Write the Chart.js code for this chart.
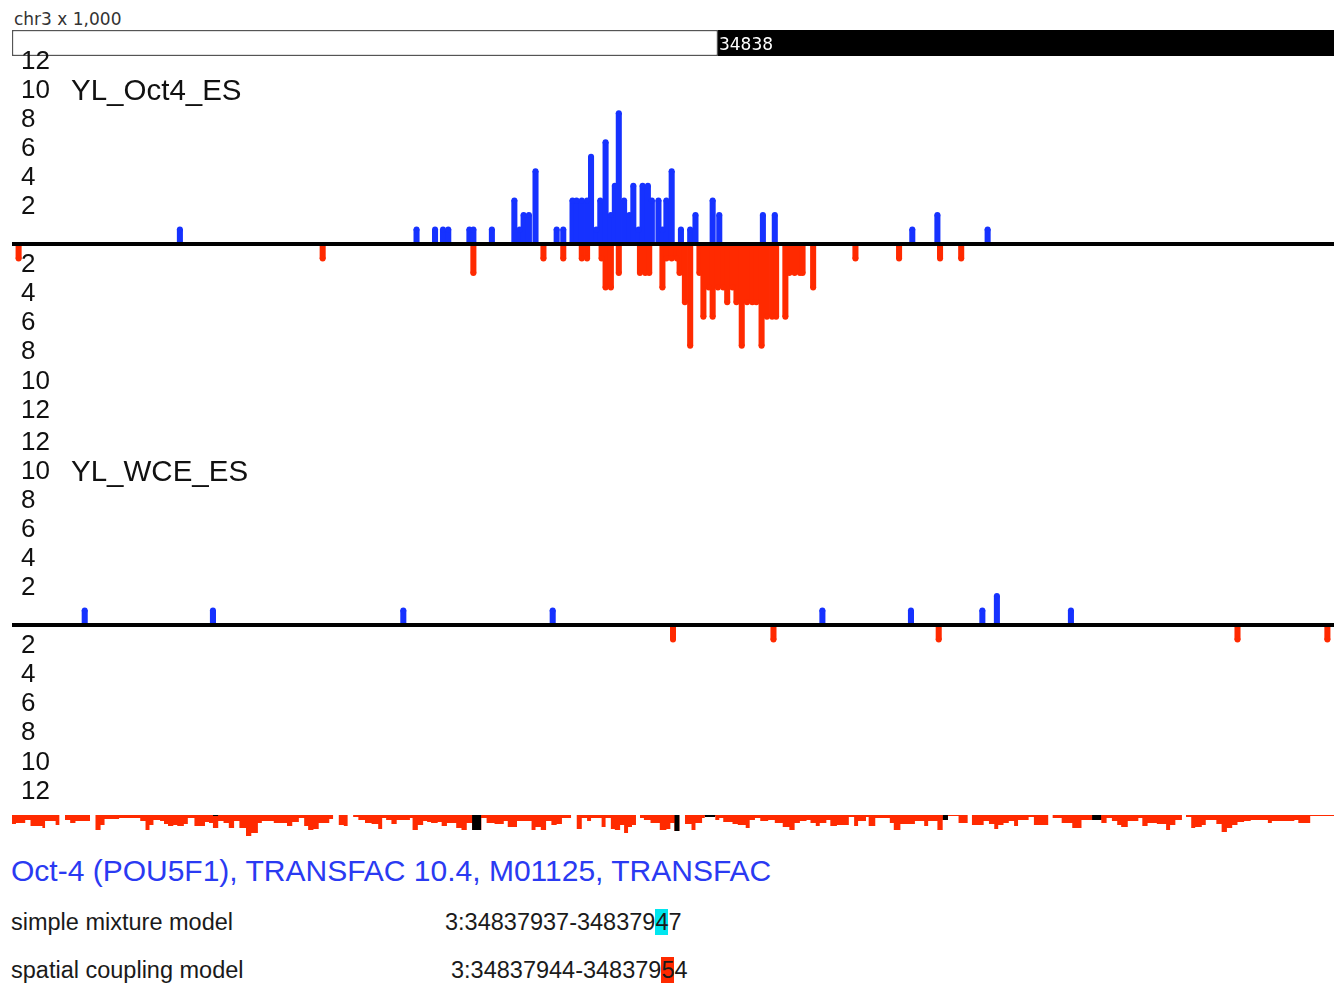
<!DOCTYPE html>
<html>
<head>
<meta charset="utf-8">
<title>Oct4 ChIP-seq read tracks, chr3</title>
<script src="https://cdn.jsdelivr.net/npm/chart.js@4.4.1/dist/chart.umd.min.js"></script>
<style>
  html, body { margin: 0; padding: 0; background: #fff; width: 1340px; height: 984px; overflow: hidden;
               font-family: "Liberation Sans", Arial, sans-serif; }
  canvas { position: absolute; }
  .abs { position: absolute; white-space: pre; }
  #scaleTitle { left: 14px; top: 8px; font: 17px "DejaVu Sans", sans-serif; line-height: 22px; color: #333; }
  .trackName { left: 71px; font-size: 29.5px; line-height: 34px; color: #111; }
  #motifName { left: 11px; top: 854px; font-size: 30px; line-height: 34px; color: #2a3af2; }
  .row { font-size: 23.5px; line-height: 28px; color: #1a1a1a; }
  .mark { display: inline-block; line-height: 26px; }
  .mark.cyan { background: #00e6ef; }
  .mark.red { background: #ff2a00; }
</style>
</head>
<body>
<div id="scaleTitle" class="abs">chr3 x 1,000</div>
<canvas id="ruler" width="1326" height="29" style="left:10px;top:28px"></canvas>
<canvas id="oct4" width="1322" height="400" style="left:12px;top:40px"></canvas>
<canvas id="wce" width="1322" height="400" style="left:12px;top:421px"></canvas>
<canvas id="motif" width="1322" height="30" style="left:12px;top:815px"></canvas>
<div class="abs trackName" style="top:73px">YL_Oct4_ES</div>
<div class="abs trackName" style="top:454px">YL_WCE_ES</div>
<div id="motifName" class="abs">Oct-4 (POU5F1), TRANSFAC 10.4, M01125, TRANSFAC</div>
<div class="abs row" style="left:11px;top:908px">simple mixture model</div>
<div class="abs row" style="left:445px;top:908px">3:34837937-348379<span class="mark cyan">4</span>7</div>
<div class="abs row" style="left:11px;top:956px">spatial coupling model</div>
<div class="abs row" style="left:451px;top:956px">3:34837944-348379<span class="mark red">5</span>4</div>
<script>
// Window shown: 1 kb of chr3, positions below are offsets (bp) from WINDOW_START.
const WINDOW_START = 34837466;
const WINDOW_LEN = 1000;
const RULER_KB = [34837, 34838];

// YL_Oct4_ES read counts, forward strand (up) and reverse strand (down)
const OCT4_FWD_POS = [127, 306, 320, 326, 330, 346, 349, 363, 380, 384, 387, 391, 396, 412, 417,
  424, 427, 431, 435, 438, 442, 445, 449, 453, 456, 459, 463, 467, 470, 474, 477, 481, 484, 489,
  492, 495, 499, 506, 513, 517, 530, 535, 568, 577, 681, 700, 738];
const OCT4_FWD_VAL = [1, 1, 1, 1, 1, 1, 1, 1, 3, 1, 2, 2, 5, 1, 1,
  3, 3, 3, 3, 6, 1, 3, 7, 2, 4, 9, 3, 2, 4, 1, 4, 4, 3, 3,
  1, 3, 5, 1, 1, 2, 3, 2, 2, 2, 1, 2, 1];
const OCT4_REV_POS = [5, 235, 349, 402, 417, 431, 435, 446, 449, 453, 459, 475, 479, 482, 492,
  495, 499, 503, 505, 509, 513, 520, 523, 527, 530, 534, 538, 541, 545, 548, 552, 556, 560, 563,
  567, 571, 575, 578, 585, 588, 592, 596, 598, 606, 638, 671, 702, 718];
const OCT4_REV_VAL = [1, 1, 2, 1, 1, 1, 1, 1, 3, 3, 2, 2, 2, 2, 3,
  1, 1, 1, 2, 4, 7, 2, 5, 3, 5, 3, 3, 4, 3, 4, 7, 4, 4, 4,
  7, 5, 5, 5, 5, 2, 2, 2, 2, 3, 1, 1, 1, 1];

// YL_WCE_ES (whole-cell extract control)
const WCE_FWD_POS = [55, 152, 296, 409, 613, 680, 734, 745, 801];
const WCE_FWD_VAL = [1, 1, 1, 1, 1, 1, 1, 2, 1];
const WCE_REV_POS = [500, 576, 701, 927, 995];
const WCE_REV_VAL = [1, 1, 1, 1, 1];

const Y_TICKS = [-12, -10, -8, -6, -4, -2, 0, 2, 4, 6, 8, 10, 12];

// Motif score profile: step starts (bp) and depth; null opens a gap until the next start
const MOTIF_POS = [0, 3, 10, 14, 23, 25, 33, 36, 40, 44, 48, 59, 63, 67, 70, 81, 97, 101, 104, 107,
  112, 115, 118, 122, 125, 130, 133, 138, 146, 149, 152, 156, 160, 164, 168, 172, 177, 181, 186, 189,
  198, 208, 212, 217, 221, 224, 228, 232, 240, 243, 247, 251, 254, 258, 262, 267, 272, 277, 280, 283,
  287, 291, 301, 303, 307, 311, 314, 317, 322, 325, 329, 336, 340, 344, 348, 355, 359, 365, 372, 375,
  382, 386, 393, 396, 400, 404, 408, 412, 416, 423, 427, 431, 435, 438, 446, 449, 453, 456, 460, 463,
  466, 469, 472, 475, 478, 483, 490, 495, 498, 501, 505, 509, 514, 517, 522, 524, 532, 535, 538, 545,
  549, 555, 558, 562, 566, 572, 577, 583, 588, 592, 596, 601, 604, 608, 611, 616, 619, 624, 633, 637,
  640, 646, 648, 653, 664, 667, 672, 679, 683, 690, 693, 700, 704, 708, 716, 723, 726, 735, 739, 743,
  746, 750, 754, 758, 761, 769, 773, 784, 787, 794, 802, 809, 817, 824, 828, 832, 836, 839, 844, 852,
  855, 859, 866, 873, 876, 880, 885, 888, 892, 895, 900, 903, 911, 915, 919, 923, 927, 932, 937, 950,
  953, 959, 970, 973, 982, 1000];
const MOTIF_DEPTH = [9, 8, 5, 11, 13, 6, 10, null, 5, 8, 6, null, 15, 10, 4, 3, 6, 15, 10, 5,
  6, 9, 11, 10, 11, 9, 3, 11, 7, 8, 13, 6, 8, 13, 6, 13, 21, 18, 8, 6,
  8, 11, 7, 3, 11, 15, 14, 8, 4, null, 10, 11, null, 2, 5, 8, 9, 14, 3, 5,
  9, 5, 3, 15, 10, 6, 7, 8, 7, 11, 8, 13, 15, 8, 15, 3, 8, 9, 6, 12,
  6, 6, 15, 12, 15, 6, 10, 9, 3, null, 14, 3, 6, 3, 12, 3, 14, 15, 10, 18,
  12, 10, null, 3, 5, 8, 15, 14, 8, 16, null, 9, 15, 8, 3, 1, 5, 3, 7, 9,
  10, 13, 5, 3, 6, 5, 8, 12, 15, 8, 6, 5, 8, 11, 8, 5, 11, 10, 2, 11,
  6, 2, 11, 3, 8, 15, 9, 9, 6, 11, 6, 15, 5, 1, 8, null, 10, 6, 9, 14,
  10, 8, 6, 11, 5, 2, 10, null, 3, 8, 13, 5, 5, 8, 3, 6, 10, 12, 6, 3,
  11, 8, 9, 15, 10, 5, null, 2, 13, 12, 10, 5, 9, 17, 13, 10, 7, 6, 5, 8,
  6, 6, 5, 8, 1, null];

// Motif hits drawn in black over the profile
const HIT_START = [152, 348, 501, 524, 704, 817];
const HIT_END = [156, 355, 505, 532, 708, 824];
const HIT_DEPTH = [1, 15, 16, 2, 5, 5];

const BLUE = '#1632ff';
const RED = '#ff2a00';
const TICK_FONT = { family: '"Liberation Sans", Arial, sans-serif', size: 26 };

const base = {
  responsive: false,
  animation: false,
  devicePixelRatio: 1,
  events: [],
  plugins: { legend: { display: false }, tooltip: { enabled: false } }
};

// Genome coordinate axis shared by every track
const genomeAxis = () => ({ type: 'linear', min: 0, max: WINDOW_LEN, offset: false, display: false });

// Kilobase ruler: alternating white / black blocks, labelled at block start
const rulerSets = RULER_KB.map(kb => ({
  data: [[Math.max(0, kb * 1000 - WINDOW_START), Math.min(WINDOW_LEN, (kb + 1) * 1000 - WINDOW_START)]],
  kb: kb,
  backgroundColor: kb % 2 ? '#ffffff' : '#000000',
  borderColor: '#555555',
  borderWidth: kb % 2 ? 1.5 : 0,
  borderSkipped: false,
  grouped: false,
  barPercentage: 1,
  categoryPercentage: 1
}));

const rulerLabels = {
  id: 'rulerLabels',
  afterDatasetsDraw(chart) {
    const { ctx, scales: { x }, chartArea } = chart;
    ctx.save();
    ctx.font = '17px "DejaVu Sans", sans-serif';
    ctx.fillStyle = '#ffffff';
    ctx.textBaseline = 'middle';
    chart.data.datasets.forEach(ds => {
      const start = ds.data[0][0];
      if (ds.kb * 1000 - WINDOW_START >= 0) {
        ctx.fillText(String(ds.kb), x.getPixelForValue(start) + 1, (chartArea.top + chartArea.bottom) / 2 + 3);
      }
    });
    ctx.restore();
  }
};

new Chart(document.getElementById('ruler'), {
  type: 'bar',
  data: { labels: ['kb'], datasets: rulerSets },
  options: Object.assign({}, base, {
    indexAxis: 'y',
    layout: { autoPadding: false, padding: { left: 2, right: 2, top: 2, bottom: 1 } },
    scales: { x: genomeAxis(), y: { display: false } }
  }),
  plugins: [rulerLabels]
});

// One read-count track: forward counts above the axis, reverse counts below
function readTrack(id, fwdPos, fwdVal, revPos, revVal) {
  const fwd = fwdPos.map((x, i) => ({ x: x, y: fwdVal[i] }));
  const rev = revPos.map((x, i) => ({ x: x, y: -revVal[i] }));
  const bar = (data, color) => ({ type: 'bar', data: data, backgroundColor: color, borderWidth: 0,
    barThickness: 5.4, grouped: false, order: 2 });
  const cap = (data, color) => ({ type: 'line', data: data, showLine: false, pointRadius: 3,
    pointBackgroundColor: color, pointBorderWidth: 0, order: 1 });
  new Chart(document.getElementById(id), {
    type: 'bar',
    data: { datasets: [bar(fwd, BLUE), bar(rev, RED), cap(fwd, BLUE), cap(rev, RED)] },
    options: Object.assign({}, base, {
      layout: { autoPadding: false, padding: { left: 0, right: 0, top: 15, bottom: 7 } },
      scales: {
        x: genomeAxis(),
        y: {
          min: -13, max: 13,
          afterBuildTicks: s => { s.ticks = Y_TICKS.map(v => ({ value: v })); },
          afterFit: s => { s.width = 0; s.paddingTop = 0; s.paddingBottom = 0; s.paddingLeft = 0; s.paddingRight = 0; },
          border: { display: false },
          grid: {
            z: 1,
            drawTicks: false,
            color: c => (c.tick && c.tick.value === 0) ? '#000000' : 'rgba(0,0,0,0)',
            lineWidth: c => (c.tick && c.tick.value === 0) ? 4 : 0
          },
          ticks: {
            mirror: true, padding: 9, labelOffset: -8, autoSkip: false,
            color: '#111111', font: TICK_FONT,
            callback: v => v === 0 ? '' : String(Math.abs(v))
          }
        }
      }
    })
  });
}

readTrack('oct4', OCT4_FWD_POS, OCT4_FWD_VAL, OCT4_REV_POS, OCT4_REV_VAL);
readTrack('wce', WCE_FWD_POS, WCE_FWD_VAL, WCE_REV_POS, WCE_REV_VAL);

// Motif track: stepped profile filled downward from the top edge
function profilePoints(pos, depth) {
  const pts = [];
  pos.forEach((x, i) => {
    if (depth[i] === null && i > 0 && depth[i - 1] !== null) pts.push({ x: x, y: depth[i - 1] });
    pts.push({ x: x, y: depth[i] });
  });
  return pts;
}
const hitPoints = [];
HIT_START.forEach((s, i) => {
  hitPoints.push({ x: s, y: HIT_DEPTH[i] }, { x: HIT_END[i], y: HIT_DEPTH[i] }, { x: HIT_END[i], y: null });
});

const stepSet = (data, color) => ({ data: data, stepped: 'before', fill: 'origin', backgroundColor: color,
  borderColor: 'rgba(0,0,0,0)', borderWidth: 0, pointRadius: 0, spanGaps: false });

new Chart(document.getElementById('motif'), {
  type: 'line',
  data: { datasets: [stepSet(hitPoints, '#000000'), stepSet(profilePoints(MOTIF_POS, MOTIF_DEPTH), RED)] },
  options: Object.assign({}, base, {
    layout: { autoPadding: false, padding: 0 },
    scales: { x: genomeAxis(), y: { min: 0, max: 30, reverse: true, display: false } }
  })
});
</script>
</body>
</html>
